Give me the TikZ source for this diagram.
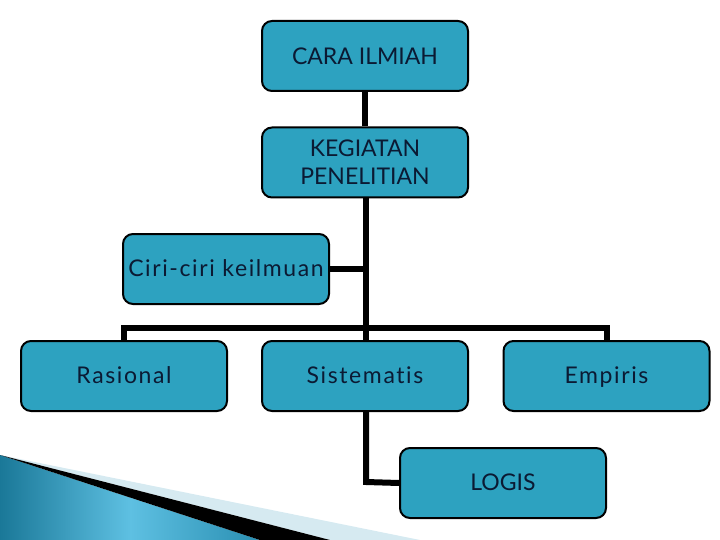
\documentclass[tikz,border=0pt]{standalone}
\usepackage{fontspec}
\usetikzlibrary{backgrounds}
\setmainfont{Lato}
\newfontfamily\widefont[LetterSpace=7,Ligatures={NoCommon,NoRequired,NoContextual}]{Lato}
\definecolor{boxfill}{HTML}{2DA2C0}
\definecolor{txt}{HTML}{0B1A33}
\definecolor{swA}{HTML}{1A7898}
\definecolor{swB}{HTML}{5EC0E2}
\definecolor{swC}{HTML}{2A8FB2}
\definecolor{swL}{HTML}{D6EAF1}
\begin{document}
\begin{tikzpicture}[x=1pt,y=-1pt,
  ibox/.style={draw=black,line width=2pt,fill=boxfill,rounded corners=10pt,
    minimum width=206pt,minimum height=70pt,text=txt,font=\fontsize{23}{28}\selectfont,
    align=center,inner sep=0pt},
  cbox/.style={ibox,text height=19pt,text depth=4pt},
  lbox/.style={ibox,font=\widefont\fontsize{23}{28}\selectfont,text height=19pt,text depth=4pt},
  conn/.style={line width=6pt,draw=black}]
\useasboundingbox (0,0) rectangle (720,540);
% nodes
\node[ibox] (cara) at (365,56) {CARA ILMIAH};
\node[ibox] (keg) at (365,162.5) {KEGIATAN\\PENELITIAN};
\node[lbox] (ciri) at (226,269) {Ciri-ciri keilmuan};
\node[lbox] (ras) at (124,376) {Rasional};
\node[lbox] (sis) at (365,376) {Sistematis};
\node[lbox] (emp) at (606.5,376) {Empiris};
\node[cbox] (log) at (503,483) {LOGIS};
% connector points
\coordinate (bar) at (366,328);
\coordinate (lg) at (366,482);
\begin{scope}[on background layer]
% swoosh decoration
\fill[swL] (0,455) -- (420,540) -- (330,540) -- cycle;
\shade[left color=swA,right color=swC,middle color=swB] (0,455) -- (260,540) -- (0,540) -- cycle;
\fill[black] (0,455) -- (330,540) -- (260,540) -- cycle;
% connectors
\draw[conn] (cara.south) -- (keg.north);
\draw[conn] (keg.south -| bar) -- (bar);
\draw[conn] (ciri.east) -- (ciri.east -| bar);
\draw[conn] (ras.north) -- (ras.north |- bar) -- (emp.north |- bar) -- (emp.north);
\draw[conn] (bar) -- (sis.north -| bar);
\draw[conn] (sis.south -| lg) -- (lg) -- (log.west);
\end{scope}
\end{tikzpicture}
\end{document}
